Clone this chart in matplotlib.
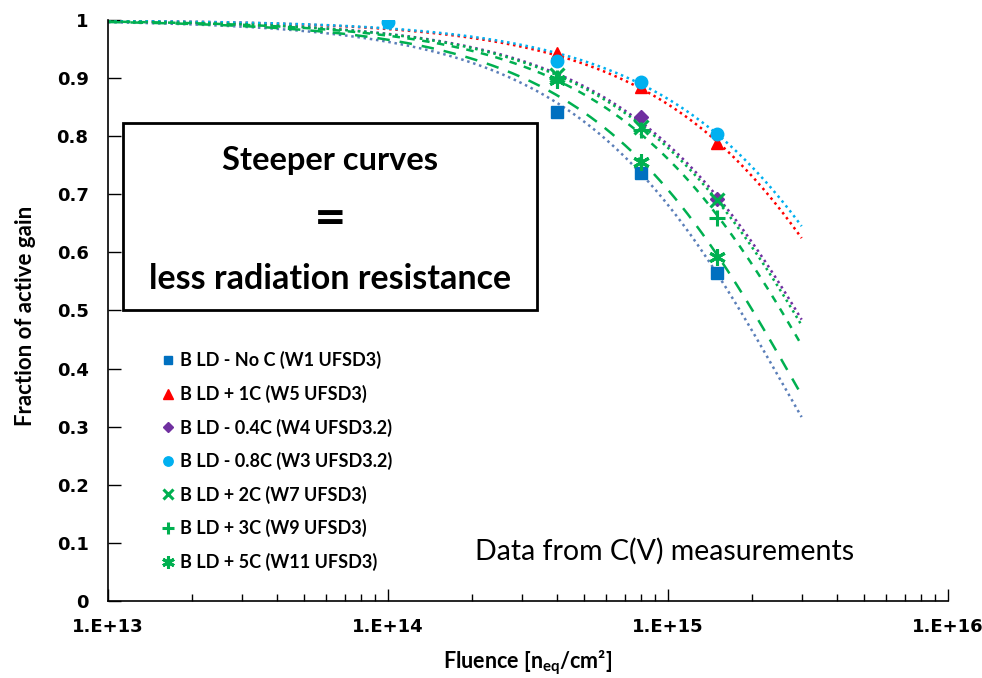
import numpy as np
import matplotlib
matplotlib.use("Agg")
import matplotlib.pyplot as plt
from matplotlib.ticker import FuncFormatter, LogLocator, NullFormatter
from matplotlib.patches import Rectangle

# fluence points (n_eq/cm2) and fraction of active gain
labels = [
    "B LD - No C (W1 UFSD3)",
    "B LD + 1C (W5 UFSD3)",
    "B LD - 0.4C (W4 UFSD3.2)",
    "B LD - 0.8C (W3 UFSD3.2)",
    "B LD + 2C (W7 UFSD3)",
    "B LD + 3C (W9 UFSD3)",
    "B LD + 5C (W11 UFSD3)",
]
fluence = [
    [4e14, 8e14, 1.5e15],
    [4e14, 8e14, 1.5e15],
    [8e14, 1.5e15],
    [1e14, 4e14, 8e14, 1.5e15],
    [4e14, 8e14, 1.5e15],
    [4e14, 8e14, 1.5e15],
    [4e14, 8e14, 1.5e15],
]
gain = [
    [0.842, 0.737, 0.565],
    [0.943, 0.885, 0.788],
    [0.833, 0.692],
    [0.997, 0.930, 0.893, 0.804],
    [0.905, 0.815, 0.691],
    [0.900, 0.810, 0.660],
    [0.897, 0.755, 0.592],
]

markers = ["s", "^", "D", "o", "x", "+", (6, 2, 0)]
msizes = [8, 9, 7, 9, 10, 12, 12]
mcolors = ["#0070C0", "#FF0000", "#7030A0", "#00B0F0", "#00B050", "#00B050", "#00B050"]
lcolors = ["#5B7FB9", "#FF0000", "#7030A0", "#00B0F0", "#00B050", "#00B050", "#00B050"]
lstyles = [(0, (1, 1.5)), (0, (1, 1.5)), (0, (1, 1.5)), (0, (1, 1.5)),
           (0, (1, 1.5)), (0, (3, 3)), (0, (5, 4))]

plt.rcParams.update({"font.family": ["Lato", "DejaVu Sans"], "mathtext.default": "regular"})

fig = plt.figure(figsize=(9.82, 6.78), dpi=100)
ax = fig.add_axes([0.110, 0.1136, 0.8554, 0.8569])
ax.set_xscale("log")
ax.set_xlim(1e13, 1e16)
ax.set_ylim(0, 1)

# exponential trend lines f = exp(-c*phi), fitted through f(0)=1
xfit = np.logspace(13, np.log10(3e15), 300)
for i in range(len(labels)):
    phi = np.array(fluence[i])
    lf = np.log(np.array(gain[i]))
    c = -np.sum(phi * lf) / np.sum(phi * phi)
    ax.plot(xfit, np.exp(-c * xfit), color=lcolors[i], ls=lstyles[i], lw=1.8, zorder=2)

for i in range(len(labels)):
    mew = 2.2 if i >= 4 else 1
    ax.plot(fluence[i], gain[i], ls="none", marker=markers[i], ms=msizes[i],
            color=mcolors[i], mec=mcolors[i], mew=mew, label=labels[i], zorder=3)

for s in ["top", "right"]:
    ax.spines[s].set_visible(False)
for s in ["left", "bottom"]:
    ax.spines[s].set_linewidth(1.2)

ax.set_yticks(np.arange(0, 1.01, 0.1))
ax.yaxis.set_major_formatter(FuncFormatter(lambda v, p: "0" if v == 0 else ("1" if abs(v - 1) < 1e-9 else f"{v:.1f}")))
ax.xaxis.set_major_locator(LogLocator(base=10, numticks=10))
ax.xaxis.set_minor_locator(LogLocator(base=10, subs=np.arange(2, 10), numticks=20))
ax.xaxis.set_minor_formatter(NullFormatter())
ax.xaxis.set_major_formatter(FuncFormatter(lambda v, p: f"1.E+{int(round(np.log10(v)))}"))
ax.tick_params(axis="both", which="both", direction="in", width=1)
ax.tick_params(axis="y", which="major", length=9, pad=14)
ax.tick_params(axis="x", which="major", length=9, pad=12)
ax.tick_params(axis="x", which="minor", length=5)
for t in ax.get_xticklabels() + ax.get_yticklabels():
    t.set_fontfamily("DejaVu Sans")
    t.set_fontweight("bold")
    t.set_fontsize(13)

ax.set_ylabel("Fraction of active gain", fontsize=16, fontweight="bold")
ax.yaxis.set_label_coords(-0.086, 0.49)
ax.set_xlabel("Fluence [n$_{eq}$/cm²]", fontsize=15.5, fontweight="bold", labelpad=9)

leg = ax.legend(loc="upper left", bbox_to_anchor=(0.04, 0.458), frameon=False,
                prop={"weight": "bold", "size": 13}, handletextpad=0.1,
                labelspacing=0.86, handlelength=1.1, markerscale=0.75)

ax.add_patch(Rectangle((0.0179, 0.5009), 0.4928, 0.3218, transform=ax.transAxes,
                       fill=False, ec="black", lw=2, zorder=4))
ax.text(0.264, 0.758, "Steeper curves", transform=ax.transAxes, ha="center", va="center",
        fontsize=23.5, fontweight="bold")
ax.text(0.264, 0.657, "=", transform=ax.transAxes, ha="center", va="center",
        fontsize=28, fontweight="bold", family="DejaVu Sans")
ax.text(0.264, 0.555, "less radiation resistance", transform=ax.transAxes, ha="center",
        va="center", fontsize=24.5, fontweight="bold")
ax.text(0.663, 0.086, "Data from C(V) measurements", transform=ax.transAxes, ha="center",
        va="center", fontsize=20.5)

fig.savefig("out.png", dpi=100)
